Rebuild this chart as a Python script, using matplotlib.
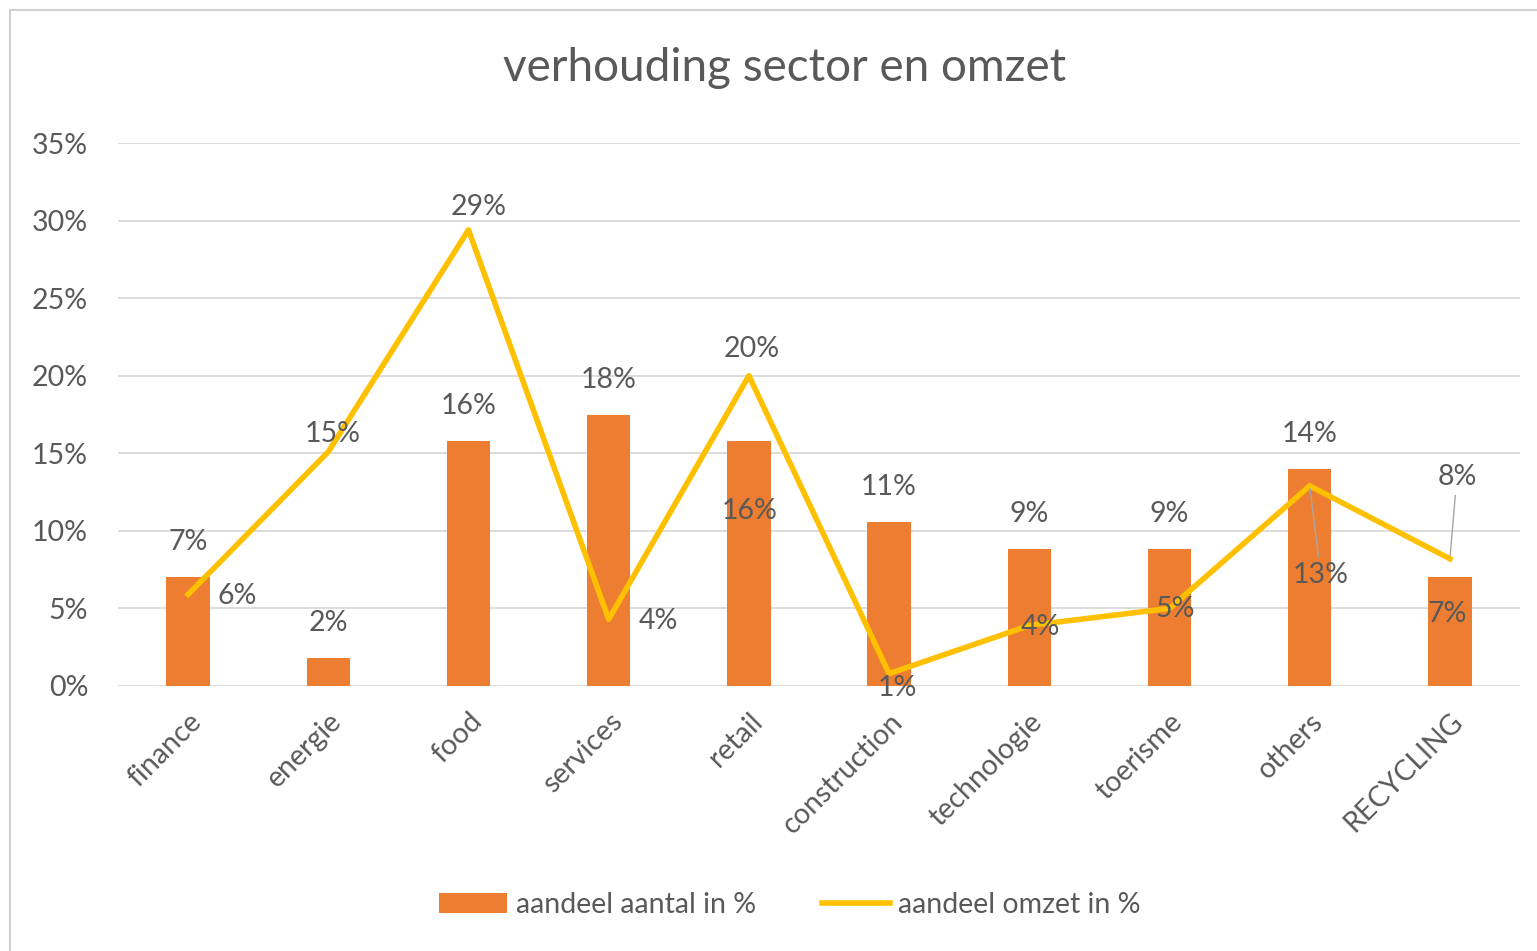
import matplotlib
matplotlib.use("Agg")
import matplotlib.pyplot as plt
from matplotlib.patches import Rectangle
from matplotlib.ticker import FuncFormatter
import numpy as np

plt.rcParams["font.family"] = ["Lato", "DejaVu Sans"]

sectors = ["finance", "energie", "food", "services", "retail", "construction",
           "technologie", "toerisme", "others", "RECYCLING"]
aantal_pct = [7.0, 1.8, 15.8, 17.5, 15.8, 10.6, 8.8, 8.8, 14.0, 7.0]
omzet_pct = [5.9, 15.1, 29.4, 4.3, 20.0, 0.8, 3.9, 5.0, 12.9, 8.2]
yticks_pct = [0, 5, 10, 15, 20, 25, 30, 35]

# label offsets in pixels (dx, dy) relative to bar top / line point
bar_offsets = [(0, 35)] * 10
bar_offsets[4] = (1, -70)
bar_offsets[9] = (-3, -37)
line_offsets = [(49, -2), (4, 18), (10, 23), (50, -2), (3, 27),
                (8, -14), (11, -2), (6, -1), (11, -89), (7, 82)]
leader = [False] * 8 + [True, True]

BAR = "#ED7D31"
LINE = "#FFC000"
TXT = "#595959"
GRID = "#D9D9D9"
FS = 20.5

fig = plt.figure(figsize=(15.37, 9.51), dpi=100)
fig.patches.append(Rectangle((10 / 1537, -0.1), 1.2, 1.1 - 10 / 951,
                             transform=fig.transFigure, fill=False,
                             edgecolor="#D0D0D0", lw=1.5))
ax = fig.add_axes([118 / 1537, 1 - 686 / 951, (1520 - 118) / 1537, (686 - 143) / 951])

x = np.arange(len(sectors))
bars = ax.bar(x, aantal_pct, width=0.31, color=BAR, label="aandeel aantal in %", zorder=2)
line, = ax.plot(x, omzet_pct, color=LINE, lw=4, label="aandeel omzet in %", zorder=3)

ax.set_xlim(-0.5, len(sectors) - 0.5)
ax.set_ylim(0, 35)
ax.set_yticks(yticks_pct)
ax.yaxis.set_major_formatter(FuncFormatter(lambda v, p: f"{v:.0f}%"))
ax.grid(axis="y", color=GRID, lw=1.3, zorder=0)
ax.set_axisbelow(True)
for s in ax.spines.values():
    s.set_visible(False)
ax.tick_params(axis="both", length=0, labelsize=FS, colors=TXT)
ax.tick_params(axis="y", pad=21.5)
ax.set_xticks(x)
ax.set_xticklabels(sectors, rotation=45, ha="right", rotation_mode="anchor")
ax.tick_params(axis="x", pad=16)

for i, v in enumerate(aantal_pct):
    ax.annotate(f"{v:.0f}%", (x[i], v), xytext=bar_offsets[i],
                textcoords="offset pixels", ha="center", va="center",
                fontsize=FS, color=TXT, zorder=4)
for i, v in enumerate(omzet_pct):
    arrow = dict(arrowstyle="-", color="#A6A6A6", lw=1, shrinkA=2, shrinkB=2) if leader[i] else None
    ax.annotate(f"{v:.0f}%", (x[i], v), xytext=line_offsets[i],
                textcoords="offset pixels", ha="center", va="center",
                fontsize=FS, color=TXT, zorder=4, arrowprops=arrow)

fig.text(785 / 1537, 1 - 68 / 951, "verhouding sector en omzet", ha="center",
         va="center", fontsize=33, color=TXT)

fig.legend([bars, line], ["aandeel aantal in %", "aandeel omzet in %"],
           loc="center", bbox_to_anchor=(790 / 1537, 1 - 905 / 951), ncol=2,
           frameon=False, fontsize=FS, labelcolor=TXT, handlelength=2.4,
           handletextpad=0.3, columnspacing=2.3, handleheight=0.7)

fig.savefig("out.png", dpi=100)
